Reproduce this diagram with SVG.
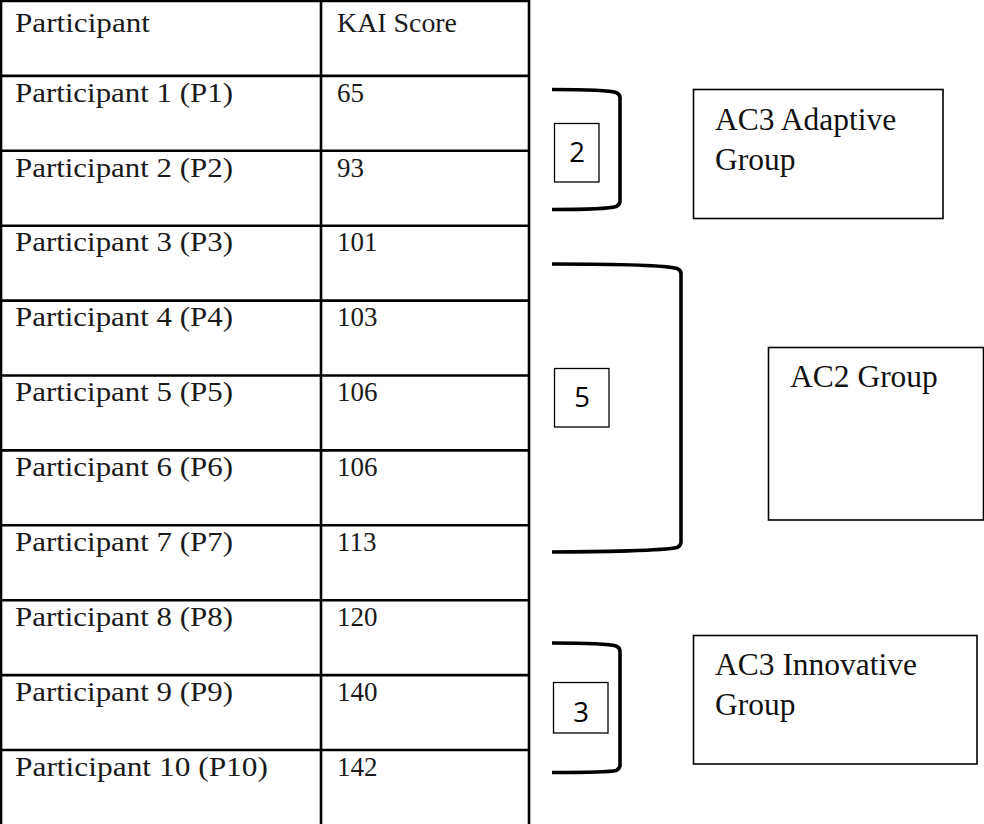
<svg xmlns="http://www.w3.org/2000/svg" width="984" height="824" viewBox="0 0 984 824">
<style>
.grid{stroke:#000;stroke-width:2.6;fill:none}
.t{font-family:"Liberation Serif","Times New Roman",serif;font-size:27px;fill:#1a1a1a}
.bt{font-family:"Liberation Serif","Times New Roman",serif;font-size:31.5px;fill:#111}
.box{fill:#fff;stroke:#000;stroke-width:1.6}
.cnt{fill:#fff;stroke:#000;stroke-width:1.3}
.n{font-family:"Open Sans","Noto Sans","Liberation Sans",sans-serif;font-size:27.5px;fill:#000;text-anchor:middle}
.br{fill:none;stroke:#000;stroke-width:3.6;stroke-linecap:butt}
</style>
<rect width="984" height="824" fill="#fff"/>
<g id="table">
<path class="grid" d="M1,0V824M321,0V824M529,0V824M0,1H529M0,75.9H529M0,150.8H529M0,225.7H529M0,300.6H529M0,375.5H529M0,450.4H529M0,525.3H529M0,600.2H529M0,675.1H529M0,750H529"/>
<text class="t" x="15" y="31.7" textLength="135" lengthAdjust="spacingAndGlyphs">Participant</text><text class="t" x="337" y="31.7" textLength="120" lengthAdjust="spacingAndGlyphs">KAI Score</text>
<text class="t" x="15" y="101.6" textLength="218" lengthAdjust="spacingAndGlyphs">Participant 1 (P1)</text><text class="t" x="337" y="101.6">65</text>
<text class="t" x="15" y="176.5" textLength="218" lengthAdjust="spacingAndGlyphs">Participant 2 (P2)</text><text class="t" x="337" y="176.5">93</text>
<text class="t" x="15" y="251.4" textLength="218" lengthAdjust="spacingAndGlyphs">Participant 3 (P3)</text><text class="t" x="337" y="251.4">101</text>
<text class="t" x="15" y="326.3" textLength="218" lengthAdjust="spacingAndGlyphs">Participant 4 (P4)</text><text class="t" x="337" y="326.3">103</text>
<text class="t" x="15" y="401.2" textLength="218" lengthAdjust="spacingAndGlyphs">Participant 5 (P5)</text><text class="t" x="337" y="401.2">106</text>
<text class="t" x="15" y="476.1" textLength="218" lengthAdjust="spacingAndGlyphs">Participant 6 (P6)</text><text class="t" x="337" y="476.1">106</text>
<text class="t" x="15" y="551" textLength="218" lengthAdjust="spacingAndGlyphs">Participant 7 (P7)</text><text class="t" x="337" y="551">113</text>
<text class="t" x="15" y="625.9" textLength="218" lengthAdjust="spacingAndGlyphs">Participant 8 (P8)</text><text class="t" x="337" y="625.9">120</text>
<text class="t" x="15" y="700.8" textLength="218" lengthAdjust="spacingAndGlyphs">Participant 9 (P9)</text><text class="t" x="337" y="700.8">140</text>
<text class="t" x="15" y="775.7" textLength="253" lengthAdjust="spacingAndGlyphs">Participant 10 (P10)</text><text class="t" x="337" y="775.7">142</text>
</g>
<g id="connectors">
<path class="br" d="M552,89.5C590,89.5 610,90.5 616,92.5Q620,94 620,98V201Q620,205 616,206.5C610,208.5 590,209.5 552,209.5"/>
<path class="br" d="M552,264C600,264 665,265 677,268.5Q681,270 681,274V542Q681,546 677,547.5C665,550.5 600,552 552,552"/>
<path class="br" d="M552,643C590,643 610,644 616,646Q620,647.5 620,651.5V765Q620,769 616,770.5C610,772 590,772.5 552,772.5"/>
</g>
<g id="count2"><rect class="cnt" x="554.5" y="123.5" width="44.5" height="58.5"/><text class="n" x="577" y="162">2</text></g>
<g id="count5"><rect class="cnt" x="554.5" y="368.5" width="54.5" height="58.5"/><text class="n" x="582" y="407">5</text></g>
<g id="count3"><rect class="cnt" x="553.5" y="682.5" width="54.5" height="50.5"/><text class="n" x="581" y="722">3</text></g>
<g id="ac3adaptive"><rect class="box" x="693.5" y="89.5" width="249.5" height="129"/><text class="bt" x="715" y="130">AC3 Adaptive</text><text class="bt" x="715" y="170">Group</text></g>
<g id="ac2"><rect class="box" x="768.5" y="347.5" width="215" height="172.5"/><text class="bt" x="790" y="387">AC2 Group</text></g>
<g id="ac3innovative"><rect class="box" x="693.5" y="635.5" width="283.5" height="128.5"/><text class="bt" x="715" y="675">AC3 Innovative</text><text class="bt" x="715" y="715">Group</text></g>
</svg>
